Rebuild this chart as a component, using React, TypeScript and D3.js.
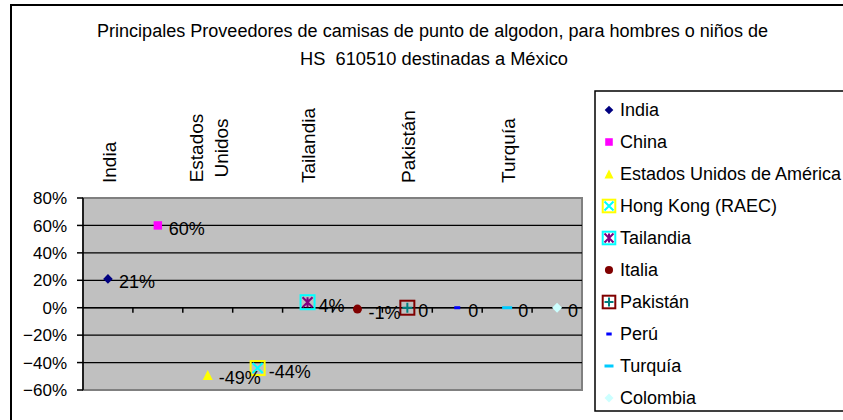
import React from "react";
import * as d3 from "d3";

const categories = ["India", "China", "Estados Unidos de América", "Hong Kong (RAEC)", "Tailandia", "Italia", "Pakistán", "Perú", "Turquía", "Colombia"];
const axisLabels = [["India"], [], ["Estados", "Unidos"], [], ["Tailandia"], [], ["Pakistán"], [], ["Turquía"], []];
const values = [0.21, 0.6, -0.49, -0.44, 0.04, -0.01, 0, 0, 0, 0];
const labelTexts = ["21%", "60%", "-49%", "-44%", "4%", "-1%", "0", "0", "0", "0"];
const yTicks = [0.8, 0.6, 0.4, 0.2, 0, -0.2, -0.4, -0.6];
const titleLines = ["Principales Proveedores de camisas de punto de algodon, para hombres o niños de", "HS  610510 destinadas a México"];

const FONT = "'Liberation Sans', Arial, sans-serif";

function Marker({ kind, cx, cy, s }: { kind: number; cx: number; cy: number; s: number }) {
  switch (kind) {
    case 0: {
      const r = 4.8 * s;
      return <path d={`M${cx},${cy - r}L${cx + r},${cy}L${cx},${cy + r}L${cx - r},${cy}Z`} fill="#000080" />;
    }
    case 1: {
      const h = 4.2 * s;
      return <rect x={cx - h} y={cy - h} width={2 * h} height={2 * h} fill="#FF00FF" />;
    }
    case 2: {
      const h = 5 * s;
      return <path d={`M${cx},${cy - h}L${cx + h},${cy + h}L${cx - h},${cy + h}Z`} fill="#FFFF00" />;
    }
    case 3: {
      const h = 7 * s;
      const k = 5 * s;
      return (
        <g>
          <rect x={cx - h} y={cy - h} width={2 * h} height={2 * h} fill="none" stroke="#FFFF00" strokeWidth={2} />
          <path d={`M${cx - k},${cy - k}L${cx + k},${cy + k}M${cx + k},${cy - k}L${cx - k},${cy + k}`} stroke="#00FFFF" strokeWidth={2} />
        </g>
      );
    }
    case 4: {
      const h = 7 * s;
      const k = 5 * s;
      return (
        <g>
          <rect x={cx - h} y={cy - h} width={2 * h} height={2 * h} fill="none" stroke="#00FFFF" strokeWidth={2} />
          <path d={`M${cx - k},${cy - k}L${cx + k},${cy + k}M${cx + k},${cy - k}L${cx - k},${cy + k}M${cx},${cy - k}L${cx},${cy + k}`} stroke="#800080" strokeWidth={2} />
        </g>
      );
    }
    case 5: {
      return <circle cx={cx} cy={cy} r={4.5 * s} fill="#800000" />;
    }
    case 6: {
      const h = 7 * s;
      const k = 5 * s;
      return (
        <g>
          <rect x={cx - h} y={cy - h} width={2 * h} height={2 * h} fill="none" stroke="#800000" strokeWidth={2} />
          <path d={`M${cx - k},${cy}L${cx + k},${cy}M${cx},${cy - k}L${cx},${cy + k}`} stroke="#008080" strokeWidth={2} />
        </g>
      );
    }
    case 7: {
      return <rect x={cx - 3 * s} y={cy - 1.5} width={6 * s} height={3} fill="#0000FF" />;
    }
    case 8: {
      return <rect x={cx - 5 * s} y={cy - 1.5} width={10 * s} height={3} fill="#00CCFF" />;
    }
    case 9: {
      const r = 5 * s;
      return <path d={`M${cx},${cy - r}L${cx + r},${cy}L${cx},${cy + r}L${cx - r},${cy}Z`} fill="#CCFFFF" />;
    }
  }
  return null;
}

export default function App() {
  const W = 843, H = 420;
  const plot = { left: 83, right: 582, top: 198, bottom: 390 };
  const x = d3.scaleBand<string>().domain(categories).range([plot.left, plot.right]);
  const y = d3.scaleLinear().domain([-0.6, 0.8]).range([plot.bottom, plot.top]);
  const bw = x.bandwidth();
  const cx = (c: string) => (x(c) as number) + bw / 2;
  const y0 = y(0);

  return (
    <svg width={W} height={H} style={{ position: "absolute", left: 0, top: 0 }} fontFamily={FONT}>
      <rect x={0} y={0} width={W} height={H} fill="#FFFFFF" />
      <rect x={11} y={5} width={900} height={500} fill="#FFFFFF" stroke="#000" strokeWidth={2} />

      {/* Title */}
      <text x={432.5} y={36.5} fontSize={18} textAnchor="middle" textLength={671} lengthAdjust="spacingAndGlyphs">
        {titleLines[0]}
      </text>
      <text x={434} y={64.5} fontSize={18} textAnchor="middle" style={{ whiteSpace: "pre" }} textLength={268} lengthAdjust="spacingAndGlyphs">
        {titleLines[1]}
      </text>

      {/* Plot area */}
      <rect x={plot.left} y={plot.top} width={plot.right - plot.left} height={plot.bottom - plot.top} fill="#C0C0C0" stroke="#808080" strokeWidth={2} />
      {yTicks.filter((t) => t !== 0.8 && t !== -0.6).map((t) => (
        <line key={"g" + t} x1={plot.left} x2={plot.right} y1={y(t)} y2={y(t)} stroke="#000" strokeWidth={1.3} />
      ))}

      {/* Y axis */}
      <line x1={plot.left} x2={plot.left} y1={plot.top} y2={plot.bottom} stroke="#000" strokeWidth={1.5} />
      {yTicks.map((t) => (
        <g key={"yt" + t}>
          <line x1={plot.left - 6} x2={plot.left} y1={y(t)} y2={y(t)} stroke="#000" strokeWidth={1.5} />
          <text x={67} y={y(t)} dy="0.36em" fontSize={17} textAnchor="end">
            {d3.format(".0%")(t)}
          </text>
        </g>
      ))}

      {/* X axis at 0 */}
      <line x1={plot.left} x2={plot.right} y1={y0} y2={y0} stroke="#000" strokeWidth={1.5} />
      {categories.slice(1).map((c) => (
        <line key={"xt" + c} x1={x(c) as number} x2={x(c) as number} y1={y0} y2={y0 + 5} stroke="#000" strokeWidth={1.5} />
      ))}

      {/* Category labels (high position, rotated) */}
      {categories.map((c, i) => {
        const lines = axisLabels[i];
        if (lines.length === 0) return null;
        const base = cx(c) + 1 + 6.8;
        if (lines.length === 1) {
          return (
            <text key={"cl" + c} transform={`translate(${base},183) rotate(-90)`} fontSize={19}>
              {lines[0]}
            </text>
          );
        }
        const gap = 25;
        return lines.map((ln, j) => (
          <text
            key={"cl" + c + j}
            transform={`translate(${base - ((lines.length - 1) * gap) / 2 + j * gap},148) rotate(-90)`}
            fontSize={19}
            textAnchor="middle"
          >
            {ln}
          </text>
        ));
      })}

      {/* Points and labels */}
      {categories.map((c, i) => (
        <g key={"p" + c}>
          <Marker kind={i} cx={cx(c)} cy={y(values[i])} s={1} />
        </g>
      ))}
      {categories.map((c, i) => (
        <text key={"l" + c} x={cx(c) + 11} y={y(values[i]) + 3} dy="0.36em" fontSize={18}>
          {labelTexts[i]}
        </text>
      ))}

      {/* Legend */}
      <rect x={595} y={91} width={300} height={320} fill="#FFFFFF" stroke="#000" strokeWidth={1.5} />
      {categories.map((c, i) => {
        const ly = 110 + i * 32;
        return (
          <g key={"lg" + c}>
            <Marker kind={i} cx={609} cy={ly} s={0.9} />
            <text x={620} y={ly} dy="0.36em" fontSize={18}>
              {c}
            </text>
          </g>
        );
      })}
    </svg>
  );
}
